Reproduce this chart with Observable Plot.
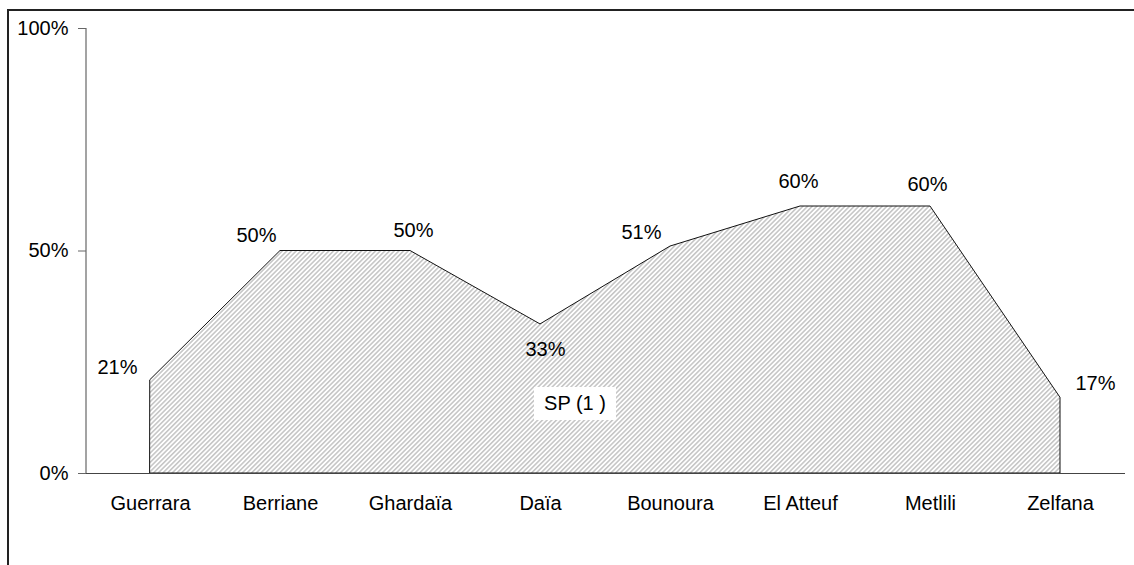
<!DOCTYPE html>
<html>
<head>
<meta charset="utf-8">
<script src="https://cdn.jsdelivr.net/npm/d3@7"></script>
<script src="https://cdn.jsdelivr.net/npm/@observablehq/plot@0.6"></script>
<style>
  html, body { margin: 0; padding: 0; background: #fff; }
  #wrap { position: relative; width: 1134px; height: 565px; overflow: hidden; }
  #border { position: absolute; left: 7px; top: 9px; right: -10px; bottom: -10px;
            border-left: 2px solid #222; border-top: 2px solid #222; pointer-events: none; }
  #series { position: absolute; left: 534px; top: 387px; width: 82px; height: 33px;
            background: #fff; font: 20px "Liberation Sans", Arial, sans-serif; color: #000;
            display: flex; align-items: center; justify-content: center; }
</style>
</head>
<body>
<div id="wrap"><div id="chart"></div><div id="border"></div><div id="series"></div></div>
<script>
const categories = ["Guerrara", "Berriane", "Ghardaïa", "Daïa", "Bounoura", "El Atteuf", "Metlili", "Zelfana"];
const values = [0.21, 0.50, 0.50, 0.335, 0.51, 0.60, 0.60, 0.17];
const valueLabels = ["21%", "50%", "50%", "33%", "51%", "60%", "60%", "17%"];
const yTicks = [0, 0.5, 1];
const seriesName = "SP (1 )";

const data = categories.map((c, i) => ({cat: c, v: values[i], label: valueLabels[i]}));

// label offsets (layout only)
const labelOffsets = [[-33, -12], [-24, -15], [3, -20], [5, 25], [-29, -14], [-2, -25], [-3, -22], [35, -14]];

const font = "Liberation Sans, Arial, sans-serif";
const fs = 20;

const plot = Plot.plot({
  width: 1134,
  height: 565,
  marginTop: 28,
  marginBottom: 92,
  marginLeft: 86,
  marginRight: 9,
  style: {fontFamily: font, fontSize: fs + "px", color: "#000", background: "transparent"},
  x: {type: "point", domain: categories, range: [85, 1125], padding: 0.5},
  y: {domain: [0, 1]},
  marks: [
    Plot.areaY(data, {x: "cat", y: "v", fill: "url(#hatch)", stroke: "#111", strokeWidth: 1}),
    Plot.ruleY([0], {stroke: "#444", strokeWidth: 1.2}),
    Plot.axisY({ticks: yTicks, tickFormat: d3.format(".0%"), tickSize: 8, tickPadding: 10, fontSize: fs, stroke: "#666", label: null}),
    Plot.axisX({tickSize: 0, tickPadding: 22, fontSize: fs, label: null}),
    ...data.map((d, i) => Plot.text([d], {x: "cat", y: "v", text: "label", dx: labelOffsets[i][0], dy: labelOffsets[i][1], fontSize: fs, fill: "#000"}))
  ]
});

// hatch pattern
const svg = d3.select(plot);
const defs = svg.insert("defs", ":first-child");
const pat = defs.append("pattern")
  .attr("id", "hatch")
  .attr("patternUnits", "userSpaceOnUse")
  .attr("width", 3.3).attr("height", 3.3)
  .attr("patternTransform", "rotate(45)");
pat.append("rect").attr("width", 3.3).attr("height", 3.3).attr("fill", "#fff");
pat.append("line").attr("x1", 0.8).attr("y1", 0).attr("x2", 0.8).attr("y2", 3.3)
  .attr("stroke", "#b4b4b4").attr("stroke-width", 1.2);

// y axis domain line from scale
const ys = plot.scale("y");
svg.append("line")
  .attr("x1", 86).attr("x2", 86)
  .attr("y1", ys.range[0]).attr("y2", ys.range[1])
  .attr("stroke", "#666").attr("stroke-width", 1.2);

document.getElementById("chart").appendChild(plot);
document.getElementById("series").textContent = seriesName;
</script>
</body>
</html>
